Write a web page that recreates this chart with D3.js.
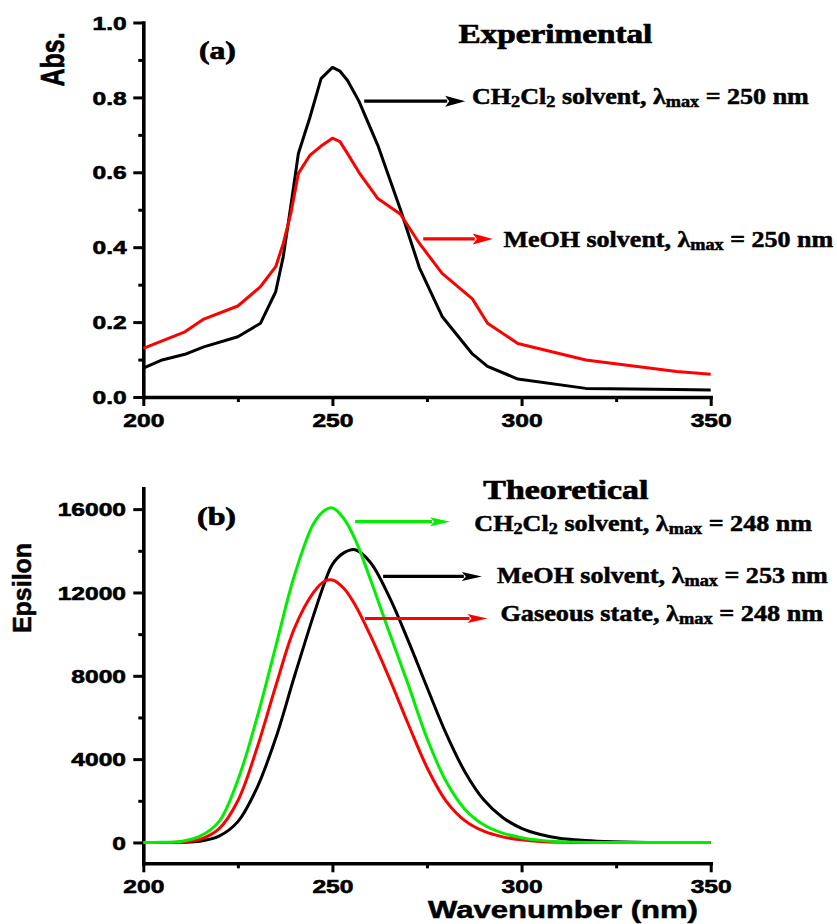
<!DOCTYPE html>
<html>
<head>
<meta charset="utf-8">
<script src="https://cdn.jsdelivr.net/npm/d3@7"></script>
<style>
  html, body { margin: 0; padding: 0; background: #fff; }
  svg { display: block; }
</style>
</head>
<body>
<script>
// ---- Experimental UV-Vis absorbance (panel a) ----
const expWavelength = [200, 205, 211, 216, 225, 231, 235, 237, 239, 241, 244, 247, 250, 252, 254, 257, 262, 268, 273, 279, 287, 291, 299, 317, 341, 350];
const expCH2Cl2 = [0.077, 0.099, 0.114, 0.134, 0.161, 0.197, 0.281, 0.375, 0.510, 0.650, 0.745, 0.850, 0.880, 0.870, 0.845, 0.790, 0.672, 0.500, 0.345, 0.215, 0.115, 0.082, 0.048, 0.023, 0.020, 0.019];
const expMeOH   = [0.130, 0.150, 0.174, 0.208, 0.243, 0.295, 0.348, 0.410, 0.490, 0.597, 0.645, 0.670, 0.691, 0.682, 0.650, 0.600, 0.530, 0.488, 0.410, 0.330, 0.262, 0.197, 0.143, 0.099, 0.068, 0.061];

// ---- Theoretical molar absorptivity (panel b) ----
const thWavelength = [200, 205, 210, 215, 220, 225, 230, 235, 240, 245, 248, 250, 253, 256, 260, 265, 270, 275, 280, 285, 290, 295, 300, 305, 310, 320, 330, 350];
const thCH2Cl2 = [0, 10, 50, 300, 1000, 3000, 5950, 9400, 12850, 15300, 15950, 16060, 15550, 14550, 12650, 10100, 7600, 5000, 2950, 1600, 850, 450, 230, 100, 30, 0, 0, 0];
const thMeOH   = [0, 0, 10, 60, 300, 1000, 2600, 5000, 8000, 10900, 12500, 13350, 13900, 14050, 13450, 11800, 9700, 7450, 5250, 3400, 2050, 1200, 680, 380, 200, 60, 10, 0];
const thGas    = [0, 0, 20, 150, 650, 2000, 4500, 7500, 10300, 12000, 12550, 12600, 12200, 11400, 9950, 7900, 5700, 3600, 2000, 1050, 540, 270, 130, 50, 15, 0, 0, 0];

// ---- Axis ticks ----
const xTicks = [200, 250, 300, 350];
const xMinorTicks = [225, 275, 325];
const absTicks = [0, 0.2, 0.4, 0.6, 0.8, 1.0];
const absMinorTicks = [0.1, 0.3, 0.5, 0.7, 0.9];
const epsTicks = [0, 4000, 8000, 12000, 16000];
const epsMinorTicks = [2000, 6000, 10000, 14000];

const SANS = "'Liberation Sans', Arial, sans-serif";
const SERIF = "'Liberation Serif', 'Times New Roman', serif";
const RED = "#ff0000", GREEN = "#00ee00", BLACK = "#000000";
const STRETCH = 1.33;   // horizontal stretch of the printed lettering

const W = 837, H = 924;
const svg = d3.select("body").append("svg").attr("width", W).attr("height", H);
svg.append("rect").attr("width", W).attr("height", H).attr("fill", "#fff");

const x = d3.scaleLinear().domain([200, 350]).range([143.3, 710.7]);
const yA = d3.scaleLinear().domain([0, 1]).range([397, 22.5]);
const yE = d3.scaleLinear().domain([-1000, 17000]).range([863.3, 488.3]);

function heavy(sel, w) {
  return sel.attr("stroke", "#000").attr("stroke-width", w).attr("paint-order", "stroke");
}

function styleAxis(g) {
  g.attr("font-family", SANS).attr("font-weight", "bold").attr("font-size", 18.5);
  g.select(".domain").attr("stroke", "#000").attr("stroke-width", 3.6).attr("stroke-linecap", "square");
  g.selectAll(".tick line").attr("stroke", "#000").attr("stroke-width", 3);
  heavy(g.selectAll(".tick text").attr("fill", "#000"), 0.6);
}

function drawAxes(y, majors, minors, fmt, yLabelOffset) {
  const base = y.range()[0];
  const left = x.range()[0];

  // minor ticks first so the axis line sits over them
  const gxm = svg.append("g").attr("transform", `translate(0,${base})`)
    .call(d3.axisBottom(x).tickValues(xMinorTicks).tickSize(5).tickSizeOuter(0).tickFormat(""));
  styleAxis(gxm); gxm.select(".domain").remove();
  const gym = svg.append("g").attr("transform", `translate(${left},0)`)
    .call(d3.axisLeft(y).tickValues(minors).tickSize(5).tickSizeOuter(0).tickFormat(""));
  styleAxis(gym); gym.select(".domain").remove();

  const gx = svg.append("g").attr("transform", `translate(0,${base})`)
    .call(d3.axisBottom(x).tickValues(xTicks).tickSize(9).tickSizeOuter(0).tickFormat(d3.format("d")));
  styleAxis(gx);
  gx.selectAll(".tick text")
    .attr("x", null).attr("y", null).attr("dy", null)
    .attr("text-anchor", "middle")
    .attr("transform", `translate(0,29.5) scale(${STRETCH},1)`);

  const gy = svg.append("g").attr("transform", `translate(${left},0)`)
    .call(d3.axisLeft(y).tickValues(majors).tickSize(10).tickSizeOuter(0).tickFormat(fmt));
  styleAxis(gy);
  gy.selectAll(".tick text")
    .attr("x", null).attr("y", null).attr("dy", null)
    .attr("text-anchor", "end")
    .attr("transform", `translate(${yLabelOffset},6.6) scale(${STRETCH},1)`);
}

drawAxes(yA, absTicks, absMinorTicks, d3.format(".1f"), -16.6);
drawAxes(yE, epsTicks, epsMinorTicks, d3.format("d"), -17.3);

// ---- curves ----
const lineA = d3.line().x((d, i) => x(expWavelength[i])).y(d => yA(d));
[[expCH2Cl2, BLACK], [expMeOH, RED]].forEach(([s, c]) => {
  svg.append("path").datum(s).attr("d", lineA)
    .attr("fill", "none").attr("stroke", c).attr("stroke-width", 3)
    .attr("stroke-linejoin", "round");
});

const lineE = d3.line().curve(d3.curveCatmullRom.alpha(0.5)).x((d, i) => x(thWavelength[i])).y(d => yE(d));
[[thMeOH, BLACK], [thGas, RED], [thCH2Cl2, GREEN]].forEach(([s, c]) => {
  svg.append("path").datum(s).attr("d", lineE)
    .attr("fill", "none").attr("stroke", c).attr("stroke-width", 3);
});

// ---- annotation helpers ----
function richText(opts) {
  const { px, py, parts, size, family, width, anchor = "start", weight = 0.5 } = opts;
  const t = svg.append("text")
    .attr("font-family", family).attr("font-weight", "bold")
    .attr("font-size", size).attr("fill", "#000").attr("text-anchor", anchor);
  heavy(t, weight);
  let lowered = false;
  const drop = size * 0.12;
  parts.forEach(p => {
    const ts = t.append("tspan").text(p.t);
    if (p.sub) {
      ts.attr("font-size", size * 0.7);
      if (!lowered) { ts.attr("dy", drop); lowered = true; }
    } else if (lowered) {
      ts.attr("dy", -drop); lowered = false;
    }
  });
  const natural = t.node().getComputedTextLength();
  const sx = width ? width / natural : STRETCH;
  t.attr("transform", `translate(${px},${py}) scale(${sx},1)`);
  return t;
}

function arrow(x1, x2, yPix, color, headLen, headHalf) {
  svg.append("line")
    .attr("x1", x1).attr("x2", x2 - headLen + 2)
    .attr("y1", yPix).attr("y2", yPix)
    .attr("stroke", color).attr("stroke-width", 3.2);
  svg.append("path")
    .attr("d", `M${x2},${yPix} L${x2 - headLen},${yPix - headHalf} L${x2 - headLen * 0.8},${yPix} L${x2 - headLen},${yPix + headHalf} Z`)
    .attr("fill", color);
}

function lambdaLabel(solvent, nm, isCH2Cl2) {
  const head = isCH2Cl2
    ? [{ t: "CH" }, { t: "2", sub: true }, { t: "Cl" }, { t: "2", sub: true }, { t: " solvent, λ" }]
    : [{ t: solvent + ", λ" }];
  return head.concat([{ t: "max", sub: true }, { t: " = " + nm + " nm" }]);
}

// ---- panel (a) annotations ----
richText({ px: x(283.3), py: yA(0.946), parts: [{ t: "Experimental" }], size: 26.5, family: SERIF, width: 194, weight: 0.7 });
richText({ px: x(214.7), py: yA(0.902), parts: [{ t: "(a)" }], size: 25, family: SERIF, width: 37, weight: 0.7 });
arrow(x(258.4), x(285.1), yA(0.790), BLACK, 20, 5.5);
richText({ px: x(286.9), py: yA(0.782), parts: lambdaLabel("", 250, true), size: 22.5, family: SERIF, width: 337 });
arrow(x(274.0), x(292.4), yA(0.422), RED, 20, 5.5);
richText({ px: x(295.2), py: yA(0.400), parts: lambdaLabel("MeOH solvent", 250, false), size: 22.5, family: SERIF, width: 330 });

// ---- panel (b) annotations ----
richText({ px: x(289.9), py: yE(16480), parts: [{ t: "Theoretical" }], size: 26.5, family: SERIF, width: 165, weight: 0.7 });
richText({ px: x(214.2), py: yE(15250), parts: [{ t: "(b)" }], size: 25, family: SERIF, width: 39, weight: 0.7 });
arrow(x(256.0), x(281.1), yE(15400), GREEN, 20, 4.5);
richText({ px: x(287.5), py: yE(14960), parts: lambdaLabel("", 248, true), size: 22.5, family: SERIF, width: 338 });
arrow(x(263.4), x(289.5), yE(12770), BLACK, 20, 4.5);
richText({ px: x(293.5), py: yE(12450), parts: lambdaLabel("MeOH solvent", 253, false), size: 22.5, family: SERIF, width: 331 });
arrow(x(258.6), x(291.0), yE(10750), RED, 20, 4.5);
richText({ px: x(294.4), py: yE(10640), parts: lambdaLabel("Gaseous state", 248, false), size: 22.5, family: SERIF, width: 323 });

// ---- axis titles ----
heavy(svg.append("text")
  .attr("font-family", SANS).attr("font-weight", "bold").attr("font-size", 25)
  .attr("text-anchor", "middle").attr("fill", "#000")
  .attr("transform", "translate(64,59.5) rotate(-90) scale(1,1.3)")
  .text("Abs."), 0.5);
heavy(svg.append("text")
  .attr("font-family", SANS).attr("font-weight", "bold").attr("font-size", 25)
  .attr("text-anchor", "middle").attr("fill", "#000")
  .attr("transform", "translate(31,588) rotate(-90) scale(1,1.05)")
  .text("Epsilon"), 0.5);
richText({ px: 563, py: 918, parts: [{ t: "Wavenumber (nm)" }], size: 23, family: SANS, width: 270, anchor: "middle" });
</script>
</body>
</html>
